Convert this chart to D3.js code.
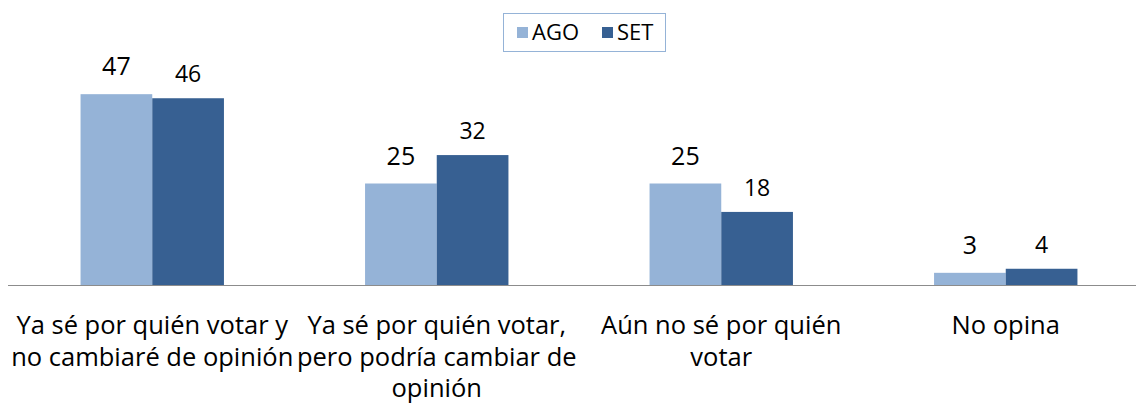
<!DOCTYPE html>
<meta charset="utf-8">
<script src="https://d3js.org/d3.v7.min.js"></script>
<style>
body { margin: 0; background: #fff; }
text { font-family: "Open Sans", sans-serif; fill: #000; }
</style>
<body></body>
<script>
// data
var categories = [
  ["Ya sé por quién votar y", "no cambiaré de opinión"],
  ["Ya sé por quién votar,", "pero podría cambiar de", "opinión"],
  ["Aún no sé por quién", "votar"],
  ["No opina"]
];
var series = ["AGO", "SET"];
var ago = [47, 25, 25, 3];
var set = [46, 32, 18, 4];
var colors = ["#95b3d7", "#376092"];

var width = 1136, height = 408;
var svg = d3.select("body").append("svg")
    .attr("width", width)
    .attr("height", height);

var baseY = 285;

var x = d3.scaleBand()
    .domain(d3.range(categories.length))
    .range([10, 1148]);

var x1 = d3.scaleBand()
    .domain(series)
    .range([x.bandwidth() * 0.248, x.bandwidth() * 0.752]);

var y = d3.scaleLinear()
    .domain([0, 50])
    .range([baseY, 82]);

var rows = categories.map(function(c, i) {
  return {i: i, vals: [ago[i], set[i]]};
});

var g = svg.selectAll(".cat").data(rows)
  .enter().append("g")
    .attr("class", "cat")
    .attr("transform", function(d) { return "translate(" + x(d.i) + ",0)"; });

g.selectAll("rect").data(function(d) { return d.vals; })
  .enter().append("rect")
    .attr("x", function(d, j) { return x1(series[j]); })
    .attr("y", function(d) { return y(d); })
    .attr("width", x1.bandwidth())
    .attr("height", function(d) { return baseY - y(d); })
    .attr("fill", function(d, j) { return colors[j]; });

g.selectAll(".val").data(function(d) { return d.vals; })
  .enter().append("text")
    .attr("class", "val")
    .attr("x", function(d, j) { return x1(series[j]) + x1.bandwidth() / 2; })
    .attr("y", function(d, j) { return y(d) - (j == 0 ? 19 : 16); })
    .attr("text-anchor", "middle")
    .attr("font-size", function(d, j) { return j == 0 ? "25px" : "23px"; })
    .text(function(d) { return d; });

// axis line
svg.append("line")
    .attr("x1", 8).attr("x2", width)
    .attr("y1", baseY + 0.5).attr("y2", baseY + 0.5)
    .attr("stroke", "#8c8c8c")
    .attr("stroke-width", 1);

// category labels
svg.selectAll(".lbl").data(categories)
  .enter().append("text")
    .attr("class", "lbl")
    .attr("text-anchor", "middle")
    .attr("font-size", "25.5px")
    .each(function(d, i) {
      var t = d3.select(this);
      d.forEach(function(line, k) {
        t.append("tspan")
          .attr("x", x(i) + x.bandwidth() / 2)
          .attr("y", 334 + k * 31.5)
          .text(line);
      });
    });

// legend
var leg = svg.append("g").attr("transform", "translate(503,13)");
leg.append("rect")
    .attr("x", 0.5).attr("y", 0.5)
    .attr("width", 162).attr("height", 38)
    .attr("fill", "#fff")
    .attr("stroke", "#95b3d7");
var items = leg.selectAll(".li").data(series)
  .enter().append("g")
    .attr("transform", function(d, i) { return "translate(" + (14 + i * 85) + ",0)"; });
items.append("rect")
    .attr("y", 14).attr("width", 11).attr("height", 11)
    .attr("fill", function(d, i) { return colors[i]; });
items.append("text")
    .attr("x", 15).attr("y", 27)
    .attr("font-size", "22px")
    .text(function(d) { return d; });
</script>
